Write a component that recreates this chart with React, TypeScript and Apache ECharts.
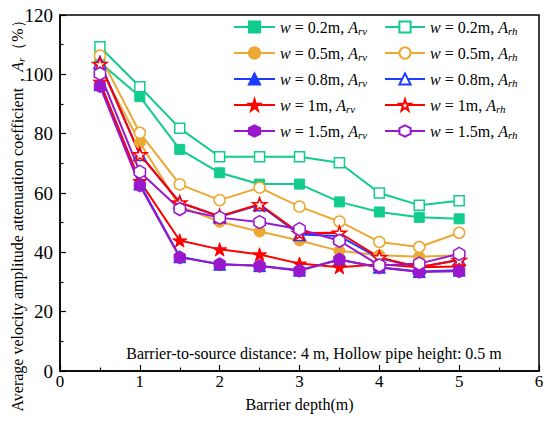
import React, { useEffect, useRef } from "react";
import * as echarts from "echarts";

const depths = [0.5, 1, 1.5, 2, 2.5, 3, 3.5, 4, 4.5, 5];

const w02Arv = [104, 92.5, 74.7, 66.8, 63, 63, 57, 53.6, 51.8, 51.3];
const w02Arh = [109.3, 95.8, 81.8, 72.2, 72.2, 72.2, 70.2, 60, 55.9, 57.4];
const w05Arv = [102.5, 77, 55.5, 50.3, 47, 44, 40.5, 39, 38.5, 39];
const w05Arh = [106.3, 80.3, 62.9, 57.6, 61.8, 55.4, 50.4, 43.5, 41.8, 46.6];
const w08Arv = [96.5, 63, 38.5, 36, 35.5, 34, 37.5, 35, 33.5, 34];
const w08Arh = [104, 73, 56.8, 52, 56, 46, 45.5, 38, 35, 37.5];
const w1Arv = [97.5, 64, 44, 41, 39.3, 36.2, 35, 36, 35, 35.2];
const w1Arh = [103.5, 73, 56.8, 52.2, 56.2, 46.5, 46.6, 38.3, 35, 37.4];
const w15Arv = [96, 62.5, 38.3, 36, 35.4, 33.8, 37.6, 34.9, 33.4, 33.6];
const w15Arh = [100.2, 67.1, 54.6, 51.7, 50.2, 47.8, 43.9, 35.6, 36.2, 39.5];

const widths = ["0.2m", "0.5m", "0.8m", "1m", "1.5m"];
const xTicks = { min: 0, max: 6, interval: 1 };
const yTicks = { min: 0, max: 120, interval: 20 };

const SERIF = "'Liberation Serif', 'Times New Roman', serif";
const HEX = "path://M0,-1 L0.866,-0.5 L0.866,0.5 L0,1 L-0.866,0.5 L-0.866,-0.5 Z";
const STAR =
  "path://M0,-1 L0.2245,-0.309 L0.951,-0.309 L0.363,0.118 L0.588,0.809 L0,0.382 L-0.588,0.809 L-0.363,0.118 L-0.951,-0.309 L-0.2245,-0.309 Z";

const colors = ["#12CC8C", "#EBA833", "#1E3CFF", "#FF0000", "#9A18CC"];
const symbols = ["rect", "circle", "triangle", STAR, HEX];
const symSizes = [10, 11, 12, 14, 13];

export default function App() {
  const ref = useRef<HTMLDivElement>(null);
  useEffect(() => {
    if (!ref.current) return;
    const chart = echarts.init(ref.current, null, { renderer: "svg" });
    const rvData = [w02Arv, w05Arv, w08Arv, w1Arv, w15Arv];
    const rhData = [w02Arh, w05Arh, w08Arh, w1Arh, w15Arh];
    const series: any[] = [];
    const rvNames: string[] = [];
    const rhNames: string[] = [];
    const labelMap: Record<string, string> = {};
    widths.forEach((w, i) => {
      const nRv = `rv${i}`;
      const nRh = `rh${i}`;
      rvNames.push(nRv);
      rhNames.push(nRh);
      labelMap[nRv] = `{i|w} = ${w}, {i|A}{sub|rv}`;
      labelMap[nRh] = `{i|w} = ${w}, {i|A}{sub|rh}`;
      series.push({
        name: nRv,
        type: "line",
        data: depths.map((d, k) => [d, rvData[i][k]]),
        symbol: symbols[i],
        symbolSize: symSizes[i],
        symbolKeepAspect: true,
        lineStyle: { color: colors[i], width: 2 },
        itemStyle: { color: colors[i], borderColor: colors[i], borderWidth: 1 },
      });
      series.push({
        name: nRh,
        type: "line",
        data: depths.map((d, k) => [d, rhData[i][k]]),
        symbol: symbols[i],
        symbolSize: symSizes[i],
        symbolKeepAspect: true,
        lineStyle: { color: colors[i], width: 2 },
        itemStyle: { color: "#ffffff", borderColor: colors[i], borderWidth: 1.5 },
      });
    });
    const rich = {
      i: { fontStyle: "italic", fontFamily: SERIF, fontSize: 16, lineHeight: 18, color: "#000" },
      sub: { fontStyle: "italic", fontFamily: SERIF, fontSize: 11, lineHeight: 18, color: "#000", padding: [7, 0, 0, 0] },
    };
    const legendBase = {
      orient: "vertical",
      top: 18,
      padding: 0,
      itemGap: 8,
      itemHeight: 14,
      formatter: (n: string) => labelMap[n],
      textStyle: { fontFamily: SERIF, fontSize: 16, lineHeight: 18, color: "#000", rich },
      inactiveColor: "#ccc",
    };
    chart.setOption({
      animation: false,
      textStyle: { fontFamily: SERIF },
      grid: { left: 60, right: 11, top: 15, bottom: 57, show: true, borderColor: "#000", borderWidth: 1.5 },
      legend: [
        { ...legendBase, left: 233, itemWidth: 41, data: rvNames },
        { ...legendBase, left: 384, itemWidth: 40, data: rhNames },
      ],
      xAxis: {
        type: "value",
        min: xTicks.min,
        max: xTicks.max,
        interval: xTicks.interval,
        name: "Barrier depth(m)",
        nameLocation: "middle",
        nameGap: 25,
        nameTextStyle: { fontFamily: SERIF, fontSize: 16, color: "#000" },
        axisLine: { lineStyle: { color: "#000", width: 1.5 } },
        axisTick: { inside: true, length: 6, lineStyle: { color: "#000", width: 1.2 } },
        minorTick: { show: true, splitNumber: 2, length: 3.5, lineStyle: { color: "#000", width: 1.2 } },
        splitLine: { show: false },
        axisLabel: { margin: 2, fontFamily: SERIF, fontSize: 17, color: "#000" },
      },
      yAxis: {
        type: "value",
        min: yTicks.min,
        max: yTicks.max,
        interval: yTicks.interval,
        axisLine: { show: true, lineStyle: { color: "#000", width: 1.5 } },
        axisTick: { show: true, inside: true, length: 6, lineStyle: { color: "#000", width: 1.2 } },
        minorTick: { show: true, splitNumber: 2, length: 3.5, lineStyle: { color: "#000", width: 1.2 } },
        splitLine: { show: false },
        axisLabel: { margin: 7, fontFamily: SERIF, fontSize: 19, color: "#000" },
      },
      graphic: [
        {
          type: "text",
          x: 17,
          y: 212,
          rotation: Math.PI / 2,
          style: {
            text: "Average velocity amplitude attenuation coefficient\uFF0C{i|A}{sub|r}\uFF08%\uFF09",
            fontFamily: SERIF,
            fontSize: 16,
            fill: "#000",
            align: "center",
            verticalAlign: "middle",
            rich: {
              i: { fontStyle: "italic", fontFamily: SERIF, fontSize: 16, lineHeight: 18 },
              sub: { fontStyle: "italic", fontFamily: SERIF, fontSize: 11, lineHeight: 18, padding: [7, 0, 0, 0] },
            },
          },
        },
        {
          type: "text",
          x: 314,
          y: 353,
          style: {
            text: "Barrier-to-source distance: 4 m, Hollow pipe height: 0.5 m",
            fontFamily: SERIF,
            fontSize: 16,
            fill: "#000",
            align: "center",
            verticalAlign: "middle",
          },
        },
      ],
      series,
    });
    return () => chart.dispose();
  }, []);
  return (
    <div
      ref={ref}
      style={{ position: "absolute", left: 0, top: 0, width: 550, height: 428, background: "#fff" }}
    />
  );
}
